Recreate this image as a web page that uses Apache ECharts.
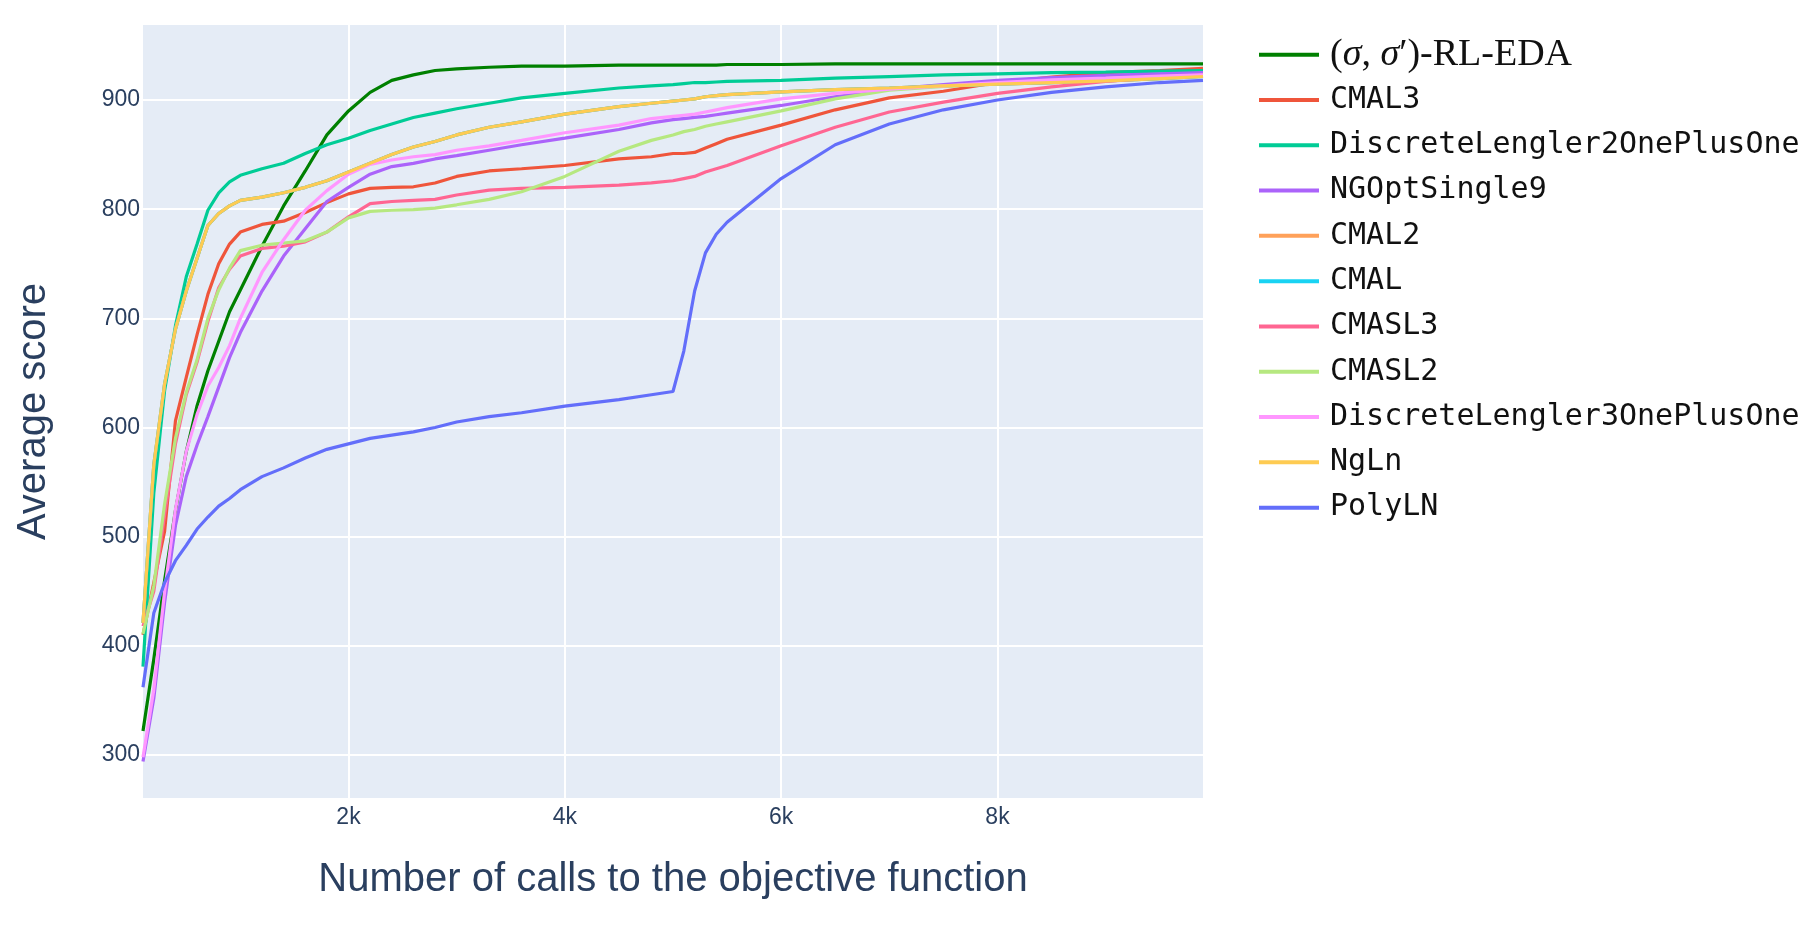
<!DOCTYPE html>
<html>
<head>
    <meta charset="utf-8">
    <title>Average score</title>
    <script src="https://cdn.jsdelivr.net/npm/echarts/dist/echarts.min.js"></script>
    <style>
        html, body { margin: 0; padding: 0; background: #fff; }
        #main { width: 1816px; height: 932px; }
    </style>
</head>
<body>
<div id="main"></div>
<script type="text/javascript">
    // number of calls (x) shared by all curves
    var xCalls = [100, 200, 300, 400, 500, 600, 700, 800, 900, 1000,
        1200, 1400, 1600, 1800, 2000, 2200, 2400, 2600, 2800, 3000,
        3300, 3600, 4000, 4500, 4800, 5000, 5100, 5200, 5300, 5400,
        5500, 6000, 6500, 7000, 7500, 8000, 8500, 9000, 9500, 9900];

    var rlEda = [322, 388, 460, 524, 578, 620, 652, 679, 706, 726,
        766, 803, 835, 868, 890, 907, 918, 923, 927, 928.5,
        930, 931, 931, 932, 932, 932, 932, 932, 932, 932,
        932.5, 932.5, 933, 933, 933, 933, 933, 933, 933, 933];
    var cmal3 = [410, 458, 505, 606, 646, 685, 722, 750, 768, 779,
        786, 789, 797, 806, 814, 819, 820, 820.5, 824, 830,
        835, 837, 840, 846, 848, 851, 851, 852, 856, 860,
        864, 877, 891, 902, 908, 916, 921, 925, 927, 929];
    var dl2 = [381, 540, 634, 693, 738, 768, 799, 815, 825, 831,
        837, 842, 851, 859, 865, 872, 878, 884, 888, 892,
        897, 902, 906, 911, 913, 914, 915, 916, 916, 916.5,
        917, 918, 920, 921.5, 923, 924, 925, 925.5, 926.5, 927];
    var ngopt9 = [294, 352, 440, 510, 555, 584, 610, 637, 664, 687,
        725, 757, 782, 807, 820, 832, 839, 842, 846, 849,
        854, 859, 865, 873, 879, 882, 883, 884, 885, 886.5,
        888, 895, 903, 910, 914, 918, 920.5, 922.5, 924, 925];
    var ngln = [421, 566, 640, 690, 725, 755, 785, 796, 803, 808,
        811, 815, 820, 826, 834, 842, 850, 857, 862, 868,
        875, 880, 887, 894, 897, 899, 900, 901, 903, 904,
        905, 907.5, 909.5, 911, 913, 914.5, 916, 917.5, 919.5, 921.5];
    // CMAL2 and CMAL are not visible: they lie under NgLn
    var cmal2 = ngln;
    var cmal = ngln;
    var cmasl3 = [418, 450, 520, 585, 630, 660, 697, 728, 745, 757,
        764, 766, 770, 779, 793, 805, 807, 808, 809, 813,
        817.5, 819, 820, 822, 824, 826, 828, 830, 834, 837,
        840, 858, 875, 889, 898, 906, 912, 917, 920.5, 923];
    var cmasl2 = [411, 455, 530, 590, 632, 662, 700, 726, 746, 762,
        767, 769, 771, 779, 792, 798, 799, 799.5, 801, 804,
        809, 816, 830, 853, 863, 868, 871, 873, 876, 878,
        880, 890, 901, 909, 912.5, 915, 917, 919, 921, 922];
    var dl3 = [298, 360, 450, 525, 578, 612, 638, 655, 675, 700,
        742, 772, 799, 817, 832, 841, 845, 848, 850, 854,
        858, 863, 870, 877, 883, 885, 886, 887, 889, 891,
        893, 901, 906, 910, 913, 916, 918.5, 920, 922, 923];
    var polyln = [362, 430, 458, 478, 492, 507, 518, 528, 535, 543,
        555, 563, 572, 580, 585, 590, 593, 596, 600, 605,
        610, 613.5, 619.5, 625.5, 630, 633, 670, 725, 760, 777,
        788, 828, 859, 878, 891, 900, 907, 912, 916, 918];

    var names = ['RL-EDA', 'CMAL3', 'DiscreteLengler2OnePlusOne', 'NGOptSingle9', 'CMAL2',
        'CMAL', 'CMASL3', 'CMASL2', 'DiscreteLengler3OnePlusOne', 'NgLn', 'PolyLN'];
    var values = [rlEda, cmal3, dl2, ngopt9, cmal2, cmal, cmasl3, cmasl2, dl3, ngln, polyln];
    var colors = ['#008000', '#EF553B', '#00CC96', '#AB63FA', '#FFA15A',
        '#19D3F3', '#FF6692', '#B6E880', '#FF97FF', '#FECB52', '#636EFA'];

    var myChart = echarts.init(document.getElementById('main'));

    var series = names.map(function (n, i) {
        return {
            name: n,
            type: 'line',
            showSymbol: false,
            symbol: 'none',
            color: colors[i],
            lineStyle: { width: 3.2, color: colors[i] },
            emphasis: { disabled: true },
            data: xCalls.map(function (x, k) { return [x, values[i][k]]; })
        };
    });

    var tickColor = '#2a3f5f';
    var sans = '"Liberation Sans", Arial, sans-serif';

    myChart.setOption({
        animation: false,
        color: colors,
        grid: { left: 143, right: 613, top: 25, bottom: 134, show: true, backgroundColor: '#E5ECF6', borderWidth: 0 },
        xAxis: {
            type: 'value',
            min: 100,
            max: 9900,
            splitNumber: 5,
            name: 'Number of calls to the objective function',
            nameLocation: 'middle',
            nameGap: 62,
            nameTextStyle: { fontFamily: sans, fontSize: 40, color: tickColor },
            axisLine: { show: false },
            axisTick: { show: false },
            axisLabel: {
                margin: 8,
                fontFamily: sans, fontSize: 23, color: tickColor,
                formatter: function (v) { return v % 2000 === 0 ? (v / 1000) + 'k' : ''; }
            },
            splitLine: { show: true, showMinLine: false, showMaxLine: false, lineStyle: { color: '#fff', width: 2 } }
        },
        yAxis: {
            type: 'value',
            min: 260.6,
            max: 968.7,
            splitNumber: 6,
            name: 'Average score',
            nameLocation: 'middle',
            nameGap: 89,
            nameTextStyle: { fontFamily: sans, fontSize: 40, color: tickColor },
            axisLine: { show: false },
            axisTick: { show: false },
            axisLabel: {
                margin: 3,
                fontFamily: sans, fontSize: 23, color: tickColor,
                formatter: function (v) { return Math.round(v) % 100 === 0 ? Math.round(v) : ''; }
            },
            splitLine: { show: true, showMinLine: false, showMaxLine: false, lineStyle: { color: '#fff', width: 2 } }
        },
        legend: {
            orient: 'vertical',
            left: 1259,
            top: 32,
            padding: 0,
            itemGap: 0,
            itemWidth: 60,
            itemHeight: 4,
            icon: 'rect',
            data: names,
            formatter: function (name) {
                if (name === 'RL-EDA') {
                    return '{p|(}{s|σ}{p|, }{s|σ}{p|′)-RL-EDA}';
                }
                return name;
            },
            textStyle: {
                fontFamily: '"DejaVu Sans Mono", monospace',
                fontSize: 30,
                color: '#111',
                lineHeight: 45.3,
                padding: [0, 0, 0, 6],
                rich: {
                    p: { fontFamily: '"Liberation Serif", serif', fontSize: 38, color: '#111', lineHeight: 45.3 },
                    s: { fontFamily: '"Liberation Serif", serif', fontStyle: 'italic', fontSize: 38, color: '#111', lineHeight: 45.3 }
                }
            }
        },
        series: series
    });
</script>
</body>
</html>
